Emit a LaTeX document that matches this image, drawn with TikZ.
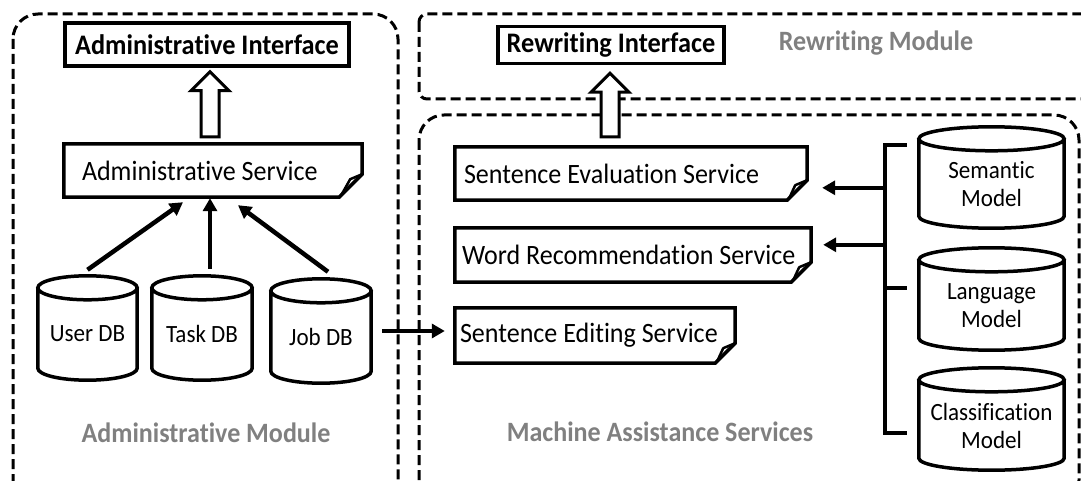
\documentclass[tikz,border=0pt]{standalone}
\usepackage{fontspec}
\setmainfont{Carlito}[FakeStretch=0.93, Ligatures=NoCommon]
\usetikzlibrary{arrows.meta,calc}
\definecolor{modgray}{HTML}{808080}
\newcommand\docshape[2]{%
  \draw[solidbox] (#1.north west) -- (#1.north east) -- ($(#1.south east)+(0,#2)$) -- ($(#1.south east)+(-#2,0)$) -- (#1.south west) -- cycle;
  \draw[curl] ($(#1.south east)+(0,#2)$) -- ($(#1.south east)+(-12,#2-5)$) -- ($(#1.south east)+(-#2+2,2)$);
}
\newcommand\dbcyl[1]{%
  \draw[solidbox] let \p1=(#1.north west), \p2=(#1.south east), \n1={(\x2-\x1)/2} in
    (\x1,\y1-12pt) -- (\x1,\y2+12pt) arc[start angle=180,end angle=360,x radius=\n1,y radius=12pt] -- (\x2,\y1-12pt)
    (\x1+\n1,\y1-12pt) ellipse[x radius=\n1,y radius=12pt];
}
\newcommand\hollowarrow[2]{%
  \draw[hollow] ($(#1)+(-9,0)$) -- ($(#2)+(-9,-19)$) -- ($(#2)+(-19,-19)$) -- (#2) -- ($(#2)+(19,-19)$) -- ($(#2)+(9,-19)$) -- ($(#1)+(9,0)$) -- cycle;
}
\begin{document}
\begin{tikzpicture}[x=1pt,y=1pt,
  solidbox/.style={draw=black, line width=3.5pt, line join=miter},
  curl/.style={draw=black, line width=2.5pt, line join=round},
  modbox/.style={draw=black, line width=3pt, dash pattern=on 10pt off 5pt},
  titlebox/.style={solidbox, font=\fontsize{28.3}{32}\selectfont\bfseries, inner sep=0pt},
  svc/.style={inner ysep=0pt, font=\fontsize{28}{32}\selectfont, align=flush left},
  db/.style={inner sep=0pt},
  dbtxt/.style={font=\fontsize{24.8}{28}\selectfont, align=center},
  modlabel/.style={text=modgray, font=\fontsize{28}{32}\selectfont\bfseries},
  link/.style={line width=4.5pt, -{Triangle[length=13pt,width=14pt]}},
  hollow/.style={draw=black, line width=3pt, fill=white, line join=miter},
  brace/.style={line width=4.5pt, line join=miter}
]
\useasboundingbox (0,0) rectangle (1081,-481);
\clip (0,0) rectangle (1081,-481);

% module frames
\draw[modbox, rounded corners=25pt] (13,-14) rectangle (398,-505);
\draw[modbox, rounded corners=8pt] (419,-14) rectangle (1110,-99);
\draw[modbox, rounded corners=25pt] (419,-115) rectangle (1079,-505);
\node[modlabel] (admMod) at (206,-433) {Administrative Module};
\node[modlabel] (rwMod) at (876,-43) {Rewriting Module};
\node[modlabel] (masMod) at (660,-432) {Machine Assistance Services};

% interfaces
\node[titlebox, minimum width=284pt, minimum height=43pt] (adminIf) at (207,-44.5) {Administrative Interface};
\node[titlebox, minimum width=226pt, minimum height=37pt] (rwIf) at (611,-45) {Rewriting Interface};

% services
\node[svc, inner xsep=18pt, text width=262pt, minimum height=53pt] (adminSvc) at (213,-170.5) {Administrative Service};
\node[svc, inner xsep=9pt, text width=334pt, minimum height=53pt] (eval) at (631,-173.5) {Sentence Evaluation Service};
\node[svc, inner xsep=7pt, text width=342pt, minimum height=54pt] (word) at (633,-255) {Word Recommendation Service};
\node[svc, inner xsep=5pt, text width=270pt, minimum height=55pt] (edit) at (595,-335.5) {Sentence Editing Service};
\docshape{adminSvc}{23}
\docshape{eval}{20}
\docshape{word}{20}
\docshape{edit}{20}

% databases
\node[db, minimum width=99pt, minimum height=104pt, label={[dbtxt,yshift=-6pt]center:User DB}] (user) at (87.5,-328) {};
\node[db, minimum width=100pt, minimum height=104pt, label={[dbtxt,yshift=-6pt]center:Task DB}] (task) at (202,-328) {};
\node[db, minimum width=100pt, minimum height=104pt, label={[dbtxt,yshift=-6pt]center:Job DB}] (job) at (321,-331) {};
\node[db, minimum width=145pt, minimum height=101pt, label={[dbtxt,yshift=-7pt]center:Semantic\\Model}] (sem) at (991.5,-177.5) {};
\node[db, minimum width=145pt, minimum height=102pt, label={[dbtxt,yshift=-7pt]center:Language\\Model}] (lang) at (991.5,-299) {};
\node[db, minimum width=145pt, minimum height=102pt, label={[dbtxt,yshift=-7pt]center:Classification\\Model}] (cls) at (991.5,-419) {};
\dbcyl{user}
\dbcyl{task}
\dbcyl{job}
\dbcyl{sem}
\dbcyl{lang}
\dbcyl{cls}

% arrows DB -> administrative service
\draw[link] ($(user.north)+(0,6)$) -- ($(adminSvc.south)+(-30,-5)$);
\draw[link] ($(task.north)+(8,7)$) -- ($(adminSvc.south)+(-3,-1)$);
\draw[link] ($(job.north)+(7,7)$) -- ($(adminSvc.south)+(25,-8)$);
\draw[link] ($(job.east)+(11,0)$) -- ($(edit.west |- job.east)+(-10,0)$);

% bracket from models
\coordinate (b1) at ($(sem.north west)+(-12,-18)$);
\coordinate (b2) at ($(lang.west)+(-12,11)$);
\coordinate (b3) at ($(cls.west)+(-12,-14)$);
\coordinate (s1) at ($(b1)+(-22,-43)$);
\coordinate (s2) at ($(b1)+(-22,-100)$);
\draw[brace] (b1) -- ++(-22,0) |- (b3);
\draw[brace] (b2) -- ++(-22,0);
\draw[link] (s1) -- ($(eval.east |- s1)+(15,0)$);
\draw[link] (s2) -- ($(word.east |- s2)+(12,0)$);

% hollow arrows to interfaces
\coordinate (aT) at ($(adminIf.south)+(3,-4)$);
\coordinate (aB) at ($(aT |- adminSvc.north)+(0,7)$);
\hollowarrow{aB}{aT}
\coordinate (rT) at ($(rwIf.south)+(-1,-8)$);
\coordinate (rB) at ($(rT |- eval.north)+(0,10)$);
\hollowarrow{rB}{rT}
\end{tikzpicture}
\end{document}
